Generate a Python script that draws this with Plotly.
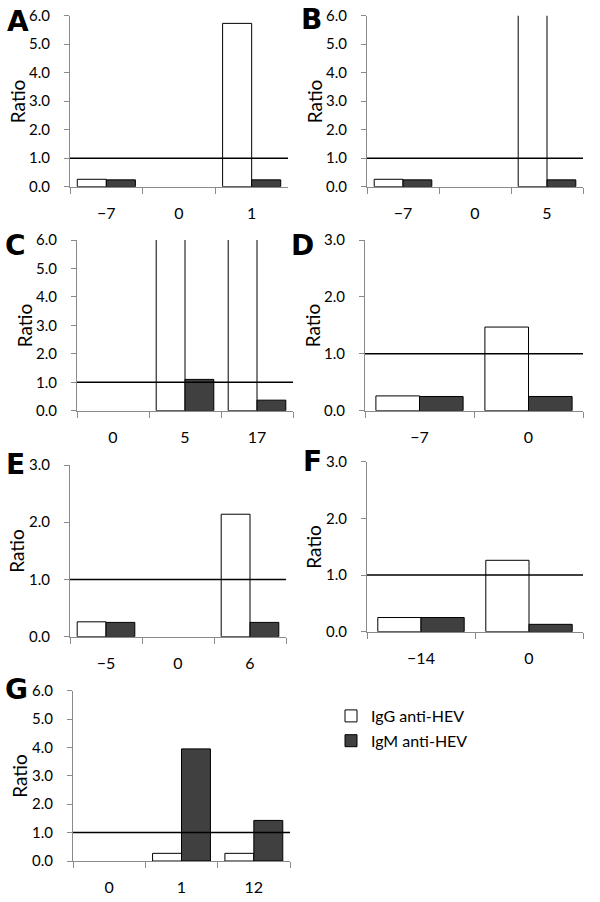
import plotly.graph_objects as go

W, H = 600, 902
FONT = "Lato"

# ---- data ----
panel_letters = ["A", "B", "C", "D", "E", "F", "G"]
cats_A = ["\u22127", "0", "1"]
igg_A = [0.26, None, 5.73]
igm_A = [0.24, None, 0.24]
cats_B = ["\u22127", "0", "5"]
igg_B = [0.26, None, 8.0]   # off scale (>6)
igm_B = [0.24, None, 0.24]
cats_C = ["0", "5", "17"]
igg_C = [None, 8.0, 8.0]    # off scale (>6)
igm_C = [None, 1.10, 0.37]
cats_D = ["\u22127", "0"]
igg_D = [0.26, 1.47]
igm_D = [0.25, 0.25]
cats_E = ["\u22125", "0", "6"]
igg_E = [0.26, None, 2.14]
igm_E = [0.25, None, 0.25]
cats_F = ["\u221214", "0"]
igg_F = [0.25, 1.26]
igm_F = [0.25, 0.13]
cats_G = ["0", "1", "12"]
igg_G = [None, 0.27, 0.27]
igm_G = [None, 3.95, 1.43]
y_max = [6, 6, 6, 3, 3, 3, 6]
y_dtick = [1, 1, 1, 1, 1, 1, 1]
cutoff = 1.0
series_names = ["IgG anti-HEV", "IgM anti-HEV"]

cats = [cats_A, cats_B, cats_C, cats_D, cats_E, cats_F, cats_G]
iggs = [igg_A, igg_B, igg_C, igg_D, igg_E, igg_F, igg_G]
igms = [igm_A, igm_B, igm_C, igm_D, igm_E, igm_F, igm_G]

# ---- layout boxes (pixels: x0, x1, ytop, ybottom) ----
boxes = [
    (70, 288, 15.7, 186.7),
    (367, 583, 15.7, 186.7),
    (77, 293, 240, 410.7),
    (365, 583, 240, 410.7),
    (70, 286, 465, 636.7),
    (367, 583, 461.7, 631.7),
    (73, 290, 690.7, 861),
]
letter_pos = [(5, 3), (299, 1), (3, 227), (289, 227), (4, 446), (301, 443), (3, 671)]

AXIS_COL = "#8a8a8a"
fig = go.Figure()
annotations = []
shapes = []

for i in range(7):
    xa = "x" if i == 0 else f"x{i+1}"
    ya = "y" if i == 0 else f"y{i+1}"
    fig.add_trace(go.Bar(
        x=cats[i], y=iggs[i], name=series_names[0], xaxis=xa, yaxis=ya,
        marker=dict(color="white", line=dict(color="black", width=1)),
        showlegend=(i == 0), legendgroup="igg"))
    fig.add_trace(go.Bar(
        x=cats[i], y=igms[i], name=series_names[1], xaxis=xa, yaxis=ya,
        marker=dict(color="#404040", line=dict(color="black", width=1)),
        showlegend=(i == 0), legendgroup="igm"))

    x0, x1, yt, yb = boxes[i]
    xkey = "xaxis" if i == 0 else f"xaxis{i+1}"
    ykey = "yaxis" if i == 0 else f"yaxis{i+1}"
    fig.layout[xkey] = dict(
        domain=[x0 / W, x1 / W], anchor=ya, type="category",
        categoryorder="array", categoryarray=cats[i],
        range=[-0.5, len(cats[i]) - 0.5], automargin=False,
        showline=True, linecolor=AXIS_COL, linewidth=1,
        ticks="outside", ticklen=6, tickcolor=AXIS_COL, tickson="boundaries",
        showgrid=False, zeroline=False,
        tickfont=dict(family=FONT, size=16, color="black"),
        ticklabelstandoff=12, fixedrange=True)
    fig.layout[ykey] = dict(
        domain=[1 - yb / H, 1 - yt / H], anchor=xa, automargin=False,
        range=[0, y_max[i]], dtick=y_dtick[i], tick0=0, tickformat=".1f",
        showline=True, linecolor=AXIS_COL, linewidth=1,
        ticks="outside", ticklen=5, tickcolor=AXIS_COL,
        showgrid=False, zeroline=False,
        tickfont=dict(family=FONT, size=15, color="black"),
        ticklabelstandoff=11, fixedrange=True)

    shapes.append(dict(type="line", xref=f"{xa} domain", yref=ya,
                       x0=0, x1=1, y0=cutoff, y1=cutoff,
                       line=dict(color="black", width=1.5)))
    # y title
    annotations.append(dict(text="Ratio", xref="paper", yref="paper",
                            x=(x0 - 53) / W, y=1 - ((yt + yb) / 2) / H,
                            xanchor="center", yanchor="middle", textangle=-90,
                            showarrow=False,
                            font=dict(family=FONT, size=19, color="black")))
    lx, ly = letter_pos[i]
    annotations.append(dict(text=f"<b>{panel_letters[i]}</b>", xref="paper", yref="paper",
                            x=lx / W, y=1 - ly / H, xanchor="left", yanchor="top",
                            showarrow=False,
                            font=dict(family="DejaVu Sans", size=28, color="black")))

fig.update_layout(
    width=W, height=H, margin=dict(l=0, r=0, t=0, b=0, autoexpand=False),
    paper_bgcolor="white", plot_bgcolor="white",
    barmode="group", bargap=0.2, bargroupgap=0,
    shapes=shapes, annotations=annotations,
    legend=dict(x=331 / W, y=1 - 699 / H, xanchor="left", yanchor="top",
                font=dict(family=FONT, size=16, color="black"),
                itemwidth=30, tracegroupgap=1, traceorder="grouped",
                bgcolor="rgba(0,0,0,0)"),
    showlegend=True,
)

fig.write_html("out.html",
               config={"displayModeBar": False},
               post_script="document.body.style.margin='0';document.body.style.padding='0';")
